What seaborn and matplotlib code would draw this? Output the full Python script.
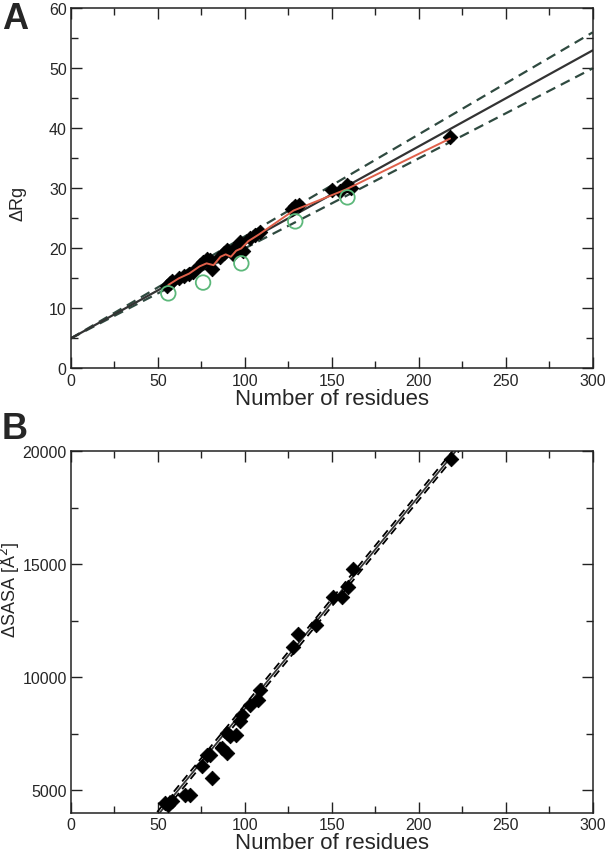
import numpy as np
import pandas as pd
import matplotlib
matplotlib.use("Agg")
import matplotlib.pyplot as plt
from matplotlib.ticker import MultipleLocator
import seaborn as sns

# Panel A: delta Rg vs number of residues
rg_res = [55, 57, 58, 62, 65, 68, 70, 74, 76, 78, 80, 81, 86, 88, 90, 93, 95, 97, 99,
          103, 106, 109, 127, 129, 131, 150, 155, 159, 161, 218]
rg_val = [13.8, 14.2, 14.5, 15.0, 15.4, 15.8, 16.0, 17.3, 17.8, 18.2, 18.0, 16.5, 18.5, 19.3,
          19.8, 19.0, 20.2, 21.0, 19.5, 21.8, 22.3, 22.8, 26.5, 27.0, 27.2, 29.8, 29.5, 30.5,
          30.0, 38.6]
# averaged curve (red)
avg_res = [56, 62, 68, 74, 78, 82, 86, 89, 92, 95, 98, 102, 108, 128, 158, 218]
avg_val = [13.9, 15.0, 15.8, 17.0, 17.5, 17.2, 18.6, 19.0, 18.6, 19.6, 20.0, 21.2, 22.3,
           26.3, 29.8, 38.3]
# open green circles
ref_res = [56, 76, 98, 129, 159]
ref_val = [12.5, 14.3, 17.5, 24.5, 28.5]
# fitted line and bounds
fit_x = [0, 300]
fit_mid = [5, 53]
fit_hi = [5, 56]
fit_lo = [5, 50]

# Panel B: delta SASA vs number of residues
sasa_res = [54, 56, 58, 65.5, 68.4, 75.1, 78.0, 79.9, 80.9, 86.6, 89.5, 89.5, 91.4, 95.2,
            97.1, 98.1, 102.9, 107.6, 108.6, 127.8, 130.6, 141.2, 150.7, 155.6, 159.4,
            162.2, 218.8]
sasa_val = [4430, 4360, 4500, 4800, 4800, 6060, 6560, 6560, 5530, 6860, 6640, 7520, 7390,
            7450, 8050, 8330, 8770, 8990, 9430, 11340, 11930, 12300, 13550, 13550, 13990,
            14800, 19650]
sasa_fit_x = [40, 240]
sasa_fit_mid = [2960, 21760]
sasa_fit_hi = [3130, 21930]
sasa_fit_lo = [2790, 21590]

sns.set_style("ticks")
plt.rcParams['font.family'] = ['Liberation Sans', 'DejaVu Sans']

fig = plt.figure(figsize=(6.06, 8.53), dpi=100)
ax1 = fig.add_axes([0.117, 0.567, 0.861, 0.422])
ax2 = fig.add_axes([0.117, 0.046, 0.861, 0.424])

dash_col = "#2f4a40"
dash = (0, (4.5, 2.8))

# --- A ---
sns.lineplot(x=fit_x, y=fit_hi, ax=ax1, color=dash_col, lw=1.6, linestyle=dash)
sns.lineplot(x=fit_x, y=fit_lo, ax=ax1, color=dash_col, lw=1.6, linestyle=dash)
sns.lineplot(x=fit_x, y=fit_mid, ax=ax1, color="#333333", lw=1.6)
sns.scatterplot(x=rg_res, y=rg_val, ax=ax1, marker="D", s=55, color="black",
                edgecolor="black", zorder=3)
sns.lineplot(x=avg_res, y=avg_val, ax=ax1, color="#e0604a", lw=1.4, sort=False, zorder=4)
sns.scatterplot(x=ref_res, y=ref_val, ax=ax1, marker="o", s=110, facecolor="none",
                edgecolor="#5cb87a", linewidth=1.3, zorder=5)
ax1.set_xlim(0, 300)
ax1.set_ylim(0, 60)
ax1.yaxis.set_major_locator(MultipleLocator(10))
ax1.yaxis.set_minor_locator(MultipleLocator(5))
ax1.set_ylabel("ΔRg", fontsize=13)
ax1.yaxis.set_label_coords(-0.085, 0.46)

# --- B ---
sns.lineplot(x=sasa_fit_x, y=sasa_fit_hi, ax=ax2, color="black", lw=1.3, linestyle=dash)
sns.lineplot(x=sasa_fit_x, y=sasa_fit_lo, ax=ax2, color="black", lw=1.3, linestyle=dash)
sns.lineplot(x=sasa_fit_x, y=sasa_fit_mid, ax=ax2, color="#333333", lw=1.3)
sns.scatterplot(x=sasa_res, y=sasa_val, ax=ax2, marker="D", s=55, color="black",
                edgecolor="black", zorder=3)
ax2.set_xlim(0, 300)
ax2.set_ylim(4000, 20000)
ax2.yaxis.set_major_locator(MultipleLocator(5000))
ax2.yaxis.set_minor_locator(MultipleLocator(2500))
ax2.set_ylabel("ΔSASA [Å$^2$]", fontsize=13)
ax2.yaxis.set_label_coords(-0.093, 0.62)

for ax in (ax1, ax2):
    ax.xaxis.set_major_locator(MultipleLocator(50))
    ax.xaxis.set_minor_locator(MultipleLocator(25))
    ax.set_xlabel("Number of residues", fontsize=16, labelpad=0)
    ax.tick_params(which="both", direction="in", top=True, right=True, labelsize=11.5,
                   width=1.0, color="#222222")
    ax.tick_params(which="major", length=8, pad=3)
    ax.tick_params(which="minor", length=5)
    for sp in ax.spines.values():
        sp.set_linewidth(1.1)
        sp.set_color("#222222")

fig.text(0.003, 0.977, "A", fontsize=26, fontweight="bold", va="center")
fig.text(0.003, 0.497, "B", fontsize=26, fontweight="bold", va="center")

fig.savefig("out.png", dpi=100)
